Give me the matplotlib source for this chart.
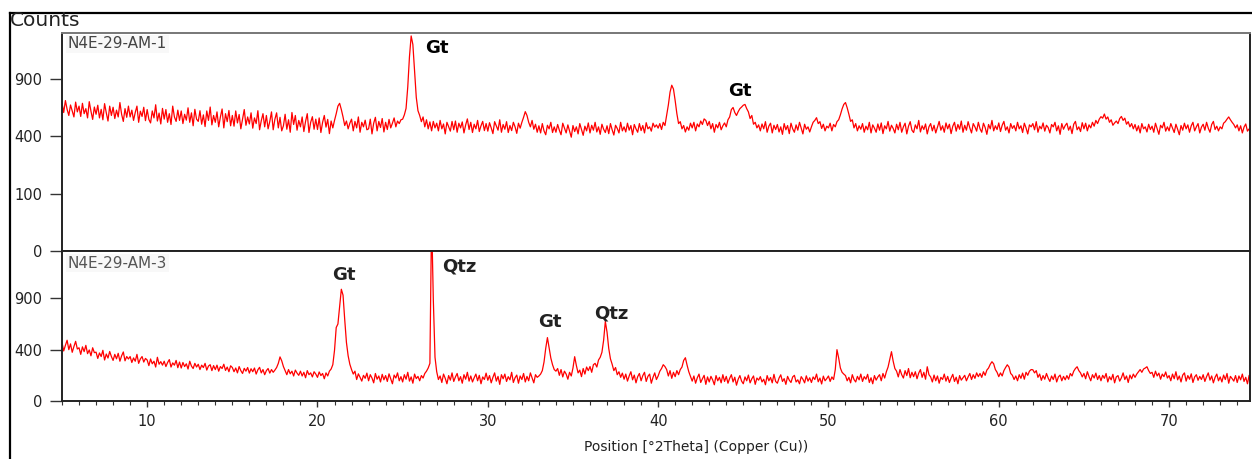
import numpy as np
import matplotlib
matplotlib.use("Agg")
import matplotlib.pyplot as plt
from matplotlib.ticker import MultipleLocator, FixedLocator, FixedFormatter
from matplotlib.lines import Line2D


# ── Data (counts per 0.1 deg step, 5.0 .. 75.0 deg 2Theta) ───────────────────

TWO_THETA = np.round(np.arange(5.0, 75.05, 0.1), 1)

SAMPLE_TOP = "N4E-29-AM-1"
COUNTS_TOP = [
    668, 585, 690, 612, 560, 650, 598, 548, 676, 590,
    640, 552, 665, 575, 618, 540, 680, 596, 528, 632,
    570, 648, 540, 612, 525, 662, 582, 515, 640, 560,
    630, 535, 605, 548, 672, 570, 512, 618, 545, 640,
    548, 605, 520, 585, 640, 505, 596, 552, 630, 518,
    610, 528, 500, 598, 540, 652, 515, 580, 492, 620,
    530, 610, 505, 575, 488, 640, 548, 512, 605, 520,
    598, 495, 570, 522, 625, 505, 582, 478, 612, 530,
    512, 600, 490, 565, 472, 598, 520, 632, 485, 560,
    505, 590, 470, 548, 615, 462, 575, 510, 602, 478,
    560, 475, 598, 500, 568, 455, 530, 610, 482, 548,
    492, 582, 460, 540, 495, 600, 448, 518, 575, 470,
    560, 455, 512, 590, 448, 530, 582, 462, 545, 440,
    478, 570, 452, 525, 430, 585, 488, 560, 445, 520,
    470, 548, 435, 512, 575, 428, 505, 550, 452, 530,
    450, 540, 428, 505, 560, 468, 528, 420, 515, 462,
    520, 575, 640, 665, 610, 548, 480, 515, 455, 498,
    530, 440, 512, 462, 548, 430, 505, 470, 522, 448,
    455, 530, 418, 498, 545, 440, 512, 465, 535, 432,
    505, 450, 528, 462, 498, 540, 470, 515, 495, 525,
    530, 565, 620, 820, 1150, 1410, 1300, 980, 720, 600,
    560, 510, 548, 470, 525, 455, 508, 440, 512, 462,
    498, 440, 520, 455, 492, 418, 505, 470, 438, 512,
    448, 515, 430, 498, 462, 508, 425, 485, 532, 450,
    505, 428, 490, 455, 520, 435, 478, 512, 442, 495,
    438, 502, 462, 420, 510, 478, 445, 525, 430, 488,
    452, 510, 428, 480, 442, 505, 470, 422, 498, 460,
    505, 545, 592, 560, 505, 470, 520, 452, 490, 430,
    478, 425, 495, 440, 412, 482, 455, 505, 428, 470,
    430, 488, 445, 412, 498, 462, 425, 485, 440, 395,
    480, 435, 470, 418, 495, 450, 408, 475, 440, 500,
    425, 482, 445, 505, 432, 470, 415, 490, 452, 428,
    478, 420, 495, 448, 410, 482, 458, 425, 505, 440,
    470, 432, 498, 445, 480, 412, 488, 455, 430, 495,
    442, 480, 425, 502, 455, 470, 438, 498, 468, 485,
    460, 495, 450, 505, 480, 560, 650, 770, 838, 800,
    690, 575, 495, 510, 455, 480, 432, 470, 445, 498,
    462, 505, 440, 492, 470, 515, 488, 532, 520, 480,
    512, 455, 495, 430, 488, 462, 505, 448, 478, 500,
    470, 525, 548, 610, 628, 585, 560, 592, 618, 632,
    648, 655, 618, 590, 535, 560, 490, 505, 462, 485,
    440, 492, 455, 510, 430, 475, 498, 425, 482, 450,
    488, 432, 470, 415, 495, 448, 480, 420, 498, 455,
    430, 485, 445, 505, 460, 418, 490, 452, 470, 432,
    470, 505, 520, 542, 495, 510, 458, 490, 440, 475,
    462, 498, 440, 488, 470, 510, 525, 565, 615, 655,
    672, 625, 570, 512, 525, 462, 495, 440, 478, 452,
    495, 430, 475, 448, 505, 425, 485, 460, 430, 492,
    445, 500, 420, 478, 455, 512, 438, 482, 458, 425,
    490, 448, 505, 430, 470, 498, 418, 475, 510, 445,
    428, 485, 455, 520, 432, 478, 450, 492, 418, 470,
    495, 440, 482, 425, 468, 512, 445, 478, 430, 500,
    455, 490, 420, 475, 505, 438, 488, 452, 515, 430,
    482, 445, 510, 462, 425, 495, 470, 438, 505, 455,
    430, 498, 465, 415, 488, 455, 520, 440, 478, 450,
    500, 435, 482, 512, 445, 470, 425, 495, 458, 480,
    440, 505, 455, 478, 428, 498, 462, 418, 485, 470,
    495, 448, 510, 430, 475, 455, 500, 438, 482, 465,
    425, 488, 470, 505, 440, 478, 415, 495, 452, 480,
    498, 445, 475, 420, 490, 512, 448, 470, 435, 502,
    455, 498, 440, 485, 462, 505, 475, 520, 495, 530,
    550, 538, 572, 530, 548, 505, 525, 482, 500, 515,
    495, 535, 552, 520, 538, 490, 510, 470, 495, 455,
    488, 440, 478, 425, 495, 455, 470, 432, 490, 450,
    475, 430, 498, 455, 415, 482, 462, 505, 438, 470,
    440, 495, 462, 428, 490, 452, 412, 480, 445, 498,
    455, 485, 430, 478, 505, 440, 470, 495, 425, 468,
    490, 445, 505, 460, 430, 488, 512, 450, 475, 440,
    470, 455, 498, 510, 530, 548, 525, 505, 488, 462,
    485, 440, 478, 425, 468, 492, 438, 455, 420, 470,
    448,
]

SAMPLE_BOTTOM = "N4E-29-AM-3"
COUNTS_BOTTOM = [
    520, 380, 470, 560, 400, 495, 360, 450, 540, 410,
    430, 330, 445, 370, 470, 340, 395, 310, 430, 355,
    362, 275, 350, 300, 390, 255, 335, 280, 372, 300,
    250, 330, 270, 345, 240, 310, 365, 245, 300, 268,
    300, 225, 282, 240, 330, 215, 268, 300, 230, 275,
    255, 190, 268, 210, 240, 175, 290, 205, 235, 195,
    240, 180, 225, 260, 175, 220, 195, 250, 168, 230,
    165, 225, 180, 210, 155, 240, 185, 160, 215, 175,
    205, 150, 195, 170, 215, 145, 185, 200, 140, 190,
    150, 195, 135, 180, 160, 205, 142, 175, 130, 188,
    170, 130, 165, 120, 180, 140, 115, 162, 135, 170,
    118, 158, 130, 165, 110, 148, 172, 120, 150, 105,
    140, 160, 118, 150, 125, 145, 170, 215, 295, 245,
    180, 140, 105, 150, 112, 135, 95, 145, 118, 100,
    135, 95, 125, 82, 140, 105, 120, 88, 130, 110,
    85, 128, 98, 115, 75, 120, 95, 135, 155, 200,
    390, 820, 900, 1350, 1895, 1700, 1000, 520, 310, 205,
    150, 110, 135, 70, 112, 85, 60, 100, 78, 118,
    62, 105, 80, 50, 115, 72, 95, 55, 108, 68,
    98, 58, 112, 75, 45, 102, 80, 120, 62, 90,
    55, 105, 72, 125, 60, 88, 48, 110, 76, 92,
    62, 98, 80, 115, 135, 165, 215, 5200, 1570, 290,
    130, 70, 95, 52, 110, 78, 45, 98, 66, 120,
    58, 88, 115, 62, 90, 48, 105, 72, 125, 60,
    95, 55, 82, 110, 62, 100, 45, 88, 70, 118,
    65, 98, 50, 85, 120, 60, 92, 42, 105, 75,
    110, 58, 90, 68, 125, 52, 82, 102, 48, 95,
    70, 115, 55, 92, 62, 120, 80, 50, 105, 85,
    95, 110, 140, 230, 420, 610, 430, 280, 200, 150,
    135, 160, 100, 150, 88, 135, 110, 72, 125, 95,
    165, 298, 190, 120, 145, 90, 160, 110, 175, 140,
    180, 125, 200, 215, 175, 255, 290, 360, 560, 960,
    720, 420, 270, 205, 140, 170, 105, 130, 85, 118,
    72, 110, 60, 95, 130, 68, 102, 50, 90, 115,
    62, 98, 125, 58, 92, 110, 48, 85, 120, 70,
    95, 135, 160, 200, 180, 150, 95, 140, 78, 125,
    90, 140, 105, 150, 175, 250, 284, 195, 130, 92,
    60, 95, 48, 82, 110, 52, 75, 100, 42, 88,
    55, 92, 68, 40, 98, 62, 85, 50, 105, 58,
    92, 48, 78, 105, 55, 86, 38, 72, 98, 60,
    45, 88, 62, 102, 50, 75, 95, 42, 80, 66,
    90, 55, 72, 40, 98, 62, 84, 50, 108, 58,
    48, 80, 104, 58, 76, 42, 92, 66, 52, 88,
    100, 55, 68, 45, 90, 72, 50, 96, 60, 82,
    52, 88, 70, 110, 56, 80, 44, 94, 62, 76,
    95, 58, 88, 70, 150, 400, 280, 165, 125, 110,
    98, 62, 85, 50, 105, 70, 55, 92, 68, 110,
    58, 90, 72, 108, 52, 82, 45, 98, 66, 88,
    105, 62, 115, 80, 130, 175, 260, 369, 240, 160,
    135, 88, 150, 105, 80, 140, 98, 160, 82, 125,
    90, 130, 75, 118, 150, 85, 125, 72, 178, 105,
    88, 55, 102, 62, 95, 48, 85, 70, 110, 60,
    92, 52, 80, 108, 58, 86, 45, 98, 66, 82,
    100, 62, 88, 115, 70, 105, 78, 120, 90, 115,
    85, 130, 100, 145, 165, 205, 234, 210, 150, 125,
    90, 120, 95, 140, 170, 199, 175, 115, 100, 70,
    95, 62, 105, 78, 118, 72, 125, 100, 135, 150,
    148, 120, 140, 85, 110, 65, 98, 72, 115, 80,
    58, 95, 70, 110, 55, 88, 102, 62, 92, 68,
    98, 72, 115, 95, 135, 160, 178, 140, 120, 88,
    115, 75, 130, 90, 62, 105, 80, 118, 70, 98,
    62, 100, 78, 115, 55, 90, 68, 108, 50, 88,
    98, 60, 82, 120, 70, 95, 52, 102, 75, 110,
    85, 110, 130, 150, 125, 155, 165, 178, 140, 115,
    125, 85, 135, 95, 118, 72, 110, 90, 128, 80,
    98, 62, 110, 75, 130, 68, 95, 55, 102, 120,
    60, 98, 72, 112, 52, 88, 105, 65, 92, 70,
    105, 58, 90, 120, 66, 95, 50, 85, 110, 62,
    88, 55, 102, 70, 115, 48, 92, 76, 60, 98,
    52, 95, 68, 110, 58, 85, 45, 100, 72, 62,
    88,
]

# phase labels: (text, 2theta, counts)
PEAKS_TOP = [("Gt", 27.0, 1256), ("Gt", 44.8, 778)]
PEAKS_BOTTOM = [("Gt", 21.55, 2420), ("Qtz", 28.3, 2760),
                ("Gt", 33.65, 936), ("Qtz", 37.25, 1164)]

YTICKS_TOP = [0, 100, 400, 900]
YTICK_LABELS_TOP = ["0", "100", "400", "900"]
YTICKS_BOTTOM = [0, 400, 1600]
YTICK_LABELS_BOTTOM = ["0", "400", "900"]

YMAX_TOP = 1449
YMAX_BOTTOM = 3414
XMIN, XMAX = 5.0, 74.75

assert len(COUNTS_TOP) == len(TWO_THETA) == len(COUNTS_BOTTOM)


# ── Styling ───────────────────────────────────────────────────────────────────

W, H = 1252, 459
LINE_RED = "#ff0000"
TICK_GRAY = "#333333"

plt.rcParams.update({
    "font.family": ["DejaVu Sans"],
    "font.size": 10,
})


def sqrt_fwd(y):
    return np.sqrt(np.clip(y, 0, None))


def sqrt_inv(y):
    return np.square(y)


def fx(px):
    return px / W


def fy(py):
    return 1 - py / H


def style_panel(ax, ymax, ticks, labels, sample, label_y, label_color):
    ax.set_yscale("function", functions=(sqrt_fwd, sqrt_inv))
    ax.set_ylim(0, ymax)
    ax.set_xlim(XMIN, XMAX)
    ax.yaxis.set_major_locator(FixedLocator(ticks))
    ax.yaxis.set_major_formatter(FixedFormatter(labels))
    ax.yaxis.set_minor_locator(FixedLocator([]))
    ax.tick_params(axis="y", direction="out", length=9, width=1,
                   color=TICK_GRAY, labelcolor="#222222", labelsize=10.5, pad=5)
    for side in ("left", "right", "top", "bottom"):
        ax.spines[side].set_linewidth(1.4)
        ax.spines[side].set_color("#222222")
    ax.text(0.005, label_y, sample, transform=ax.transAxes,
            ha="left", va="center", fontsize=11, color=label_color,
            bbox=dict(boxstyle="square,pad=0.1", facecolor="#f8f8f8",
                      edgecolor="none"))


def draw(out_path="out.png"):
    fig = plt.figure(figsize=(W / 100, H / 100), dpi=100)
    fig.patch.set_facecolor("white")

    left, right = fx(62), fx(1250)
    top_t, mid, bot_b = fy(33), fy(251), fy(401)

    ax_top = fig.add_axes([left, mid, right - left, top_t - mid])
    ax_bot = fig.add_axes([left, bot_b, right - left, mid - bot_b],
                          sharex=ax_top)

    ax_top.plot(TWO_THETA, COUNTS_TOP, color=LINE_RED, lw=0.9)
    ax_bot.plot(TWO_THETA, COUNTS_BOTTOM, color=LINE_RED, lw=0.9)

    style_panel(ax_top, YMAX_TOP, YTICKS_TOP, YTICK_LABELS_TOP,
                SAMPLE_TOP, 0.95, "#444444")
    style_panel(ax_bot, YMAX_BOTTOM, YTICKS_BOTTOM, YTICK_LABELS_BOTTOM,
                SAMPLE_BOTTOM, 0.92, "#555555")
    ax_top.spines["top"].set_color("#777777")

    ax_top.tick_params(axis="x", which="both", bottom=False, labelbottom=False)
    ax_bot.xaxis.set_major_locator(MultipleLocator(10))
    ax_bot.xaxis.set_minor_locator(MultipleLocator(1))
    ax_bot.tick_params(axis="x", which="major", direction="out", length=4,
                       width=1, color=TICK_GRAY, labelcolor="#222222",
                       labelsize=10.5, pad=5)
    ax_bot.tick_params(axis="x", which="minor", direction="out", length=3,
                       width=0.8, color=TICK_GRAY)

    ax_bot.set_xlabel("Position [°2Theta] (Copper (Cu))", fontsize=10,
                      color="#222222")
    ax_bot.xaxis.set_label_coords(0.534, -0.26)

    for txt, x, y in PEAKS_TOP:
        ax_top.text(x, y, txt, ha="center", va="center", fontsize=13,
                    fontweight="bold", color="black")
    for txt, x, y in PEAKS_BOTTOM:
        ax_bot.text(x, y, txt, ha="center", va="center", fontsize=13,
                    fontweight="bold", color="#222222")

    # outer frame + "Counts"
    fig.add_artist(Line2D([fx(10), fx(10)], [fy(13), 0], color="black", lw=1.6))
    fig.add_artist(Line2D([fx(10), 1], [fy(13), fy(13)], color="black", lw=1.6))
    fig.text(fx(10), fy(21), "Counts", ha="left", va="center",
             fontsize=14.5, color="#222222")

    fig.savefig(out_path, dpi=100, facecolor="white")
    plt.close(fig)


if __name__ == "__main__":
    draw()
